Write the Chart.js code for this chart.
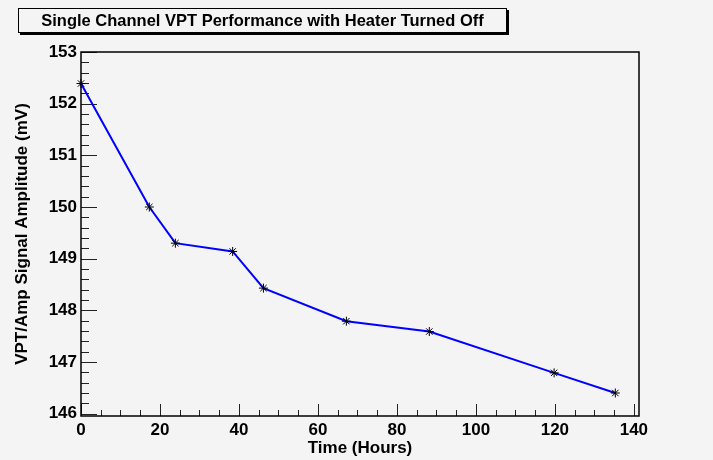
<!DOCTYPE html>
<html>
<head>
<meta charset="utf-8">
<script src="https://cdn.jsdelivr.net/npm/chart.js@4.4.0/dist/chart.umd.min.js"></script>
<style>
  html, body { margin: 0; padding: 0; background: #f4f4f4; }
  #wrap { position: relative; width: 713px; height: 460px; }
  #title {
    position: absolute; left: 18px; top: 8px; width: 487px; height: 23px;
    border: 1px solid #000; box-shadow: 2px 2px 0 #000; background: #f4f4f4;
    font: bold 16.5px "Liberation Sans", Arial, sans-serif;
    text-align: center; line-height: 23px; color: #000;
  }
</style>
</head>
<body>
<div id="wrap">
  <canvas id="chart" width="713" height="460"></canvas>
  <div id="title">Single Channel VPT Performance with Heater Turned Off</div>
</div>
<script>
// time in hours and the measured amplitude
const hours = [0, 17.3, 23.9, 38.4, 46.2, 67.2, 88.2, 119.8, 135.3];
const amplitude = [152.39, 150.0, 149.30, 149.14, 148.43, 147.79, 147.59, 146.79, 146.40];

const xTicks = [0, 20, 40, 60, 80, 100, 120, 140];
const yTicks = [146, 147, 148, 149, 150, 151, 152, 153];
const xMinorStep = 5;
const yMinorStep = 0.2;

const font = { family: '"Liberation Sans", Arial, sans-serif', weight: 'bold', size: 17 };

// ROOT style frame with inward ticks
const frameTicks = {
  id: 'frameTicks',
  beforeDatasetsDraw(chart) {
    const { ctx, chartArea: a, scales: { x, y } } = chart;
    ctx.save();
    ctx.strokeStyle = '#222';
    ctx.lineWidth = 1;
    ctx.beginPath();
    for (let v = x.min; v <= x.max + 1e-9; v += xMinorStep) {
      const px = Math.round(x.getPixelForValue(v)) + 0.5;
      const len = xTicks.includes(Math.round(v)) ? 12 : 6;
      ctx.moveTo(px, a.bottom);
      ctx.lineTo(px, a.bottom - len);
    }
    for (let i = 0; ; i++) {
      const v = yTicks[0] + i * yMinorStep;
      if (v > y.max + 1e-9) break;
      const py = Math.round(y.getPixelForValue(v)) + 0.5;
      const len = (i % 5 === 0) ? 16 : 8;
      ctx.moveTo(a.left, py);
      ctx.lineTo(a.left + len, py);
    }
    ctx.stroke();
    ctx.strokeStyle = '#000';
    ctx.lineWidth = 1.5;
    ctx.strokeRect(a.left, a.top, a.right - a.left, a.bottom - a.top);
    ctx.restore();
  }
};

new Chart(document.getElementById('chart'), {
  type: 'line',
  data: {
    datasets: [{
      data: hours.map((h, i) => ({ x: h, y: amplitude[i] })),
      borderColor: '#0000ff',
      borderWidth: 2,
      pointStyle: 'star',
      pointRadius: 4.5,
      pointBorderColor: '#000',
      pointBorderWidth: 1,
      tension: 0,
      clip: false,
    }],
  },
  options: {
    responsive: false,
    animation: false,
    layout: { padding: { top: 52, right: 74, bottom: 0, left: 0 } },
    plugins: { legend: { display: false }, tooltip: { enabled: false } },
    scales: {
      x: {
        type: 'linear',
        min: 0,
        max: 141.3,
        grid: { display: false, drawTicks: false },
        border: { display: false },
        afterBuildTicks: (s) => { s.ticks = xTicks.map((v) => ({ value: v })); },
        afterFit: (s) => { s.height = 44; },
        ticks: { color: '#000', font, padding: 4, maxRotation: 0, autoSkip: false },
        title: { display: true, text: 'Time (Hours)', color: '#000', font, padding: { top: 0, bottom: 1 } },
      },
      y: {
        min: 145.955,
        max: 153,
        grid: { display: false, drawTicks: false },
        border: { display: false },
        afterBuildTicks: (s) => { s.ticks = yTicks.map((v) => ({ value: v })); },
        afterFit: (s) => { s.width = 81; },
        ticks: { color: '#000', font, padding: 4, autoSkip: false },
        title: { display: true, text: 'VPT/Amp Signal Amplitude (mV)', color: '#000', font, padding: { top: 12, bottom: 0 } },
      },
    },
  },
  plugins: [frameTicks],
});
</script>
</body>
</html>
